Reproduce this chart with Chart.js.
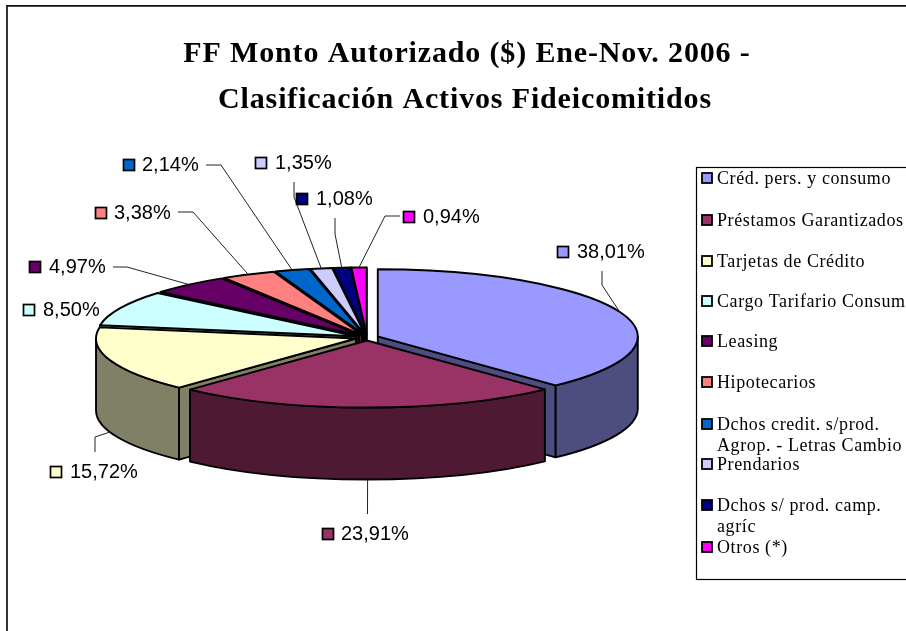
<!DOCTYPE html>
<html><head><meta charset="utf-8">
<style>html,body{margin:0;padding:0;background:#fff}#w{position:relative;width:906px;height:631px;overflow:hidden}</style>
<script src="https://cdn.jsdelivr.net/npm/chart.js@4"></script></head>
<body><div id="w"><canvas id="c" width="906" height="631"></canvas></div>
<script>
const titleLines = ["FF Monto Autorizado ($) Ene-Nov. 2006 -", "Clasificación Activos Fideicomitidos"];
const categories = ["Créd. pers. y consumo","Préstamos Garantizados","Tarjetas de Crédito","Cargo Tarifario Consumo","Leasing","Hipotecarios","Dchos credit. s/prod. Agrop. - Letras Cambio","Prendarios","Dchos s/ prod. camp. agríc","Otros (*)"];
const shares = [38.01,23.91,15.72,8.50,4.97,3.38,2.14,1.35,1.08,0.94];
const shareLabels = ["38,01%","23,91%","15,72%","8,50%","4,97%","3,38%","2,14%","1,35%","1,08%","0,94%"];
const topColors = ["#9999FF","#993366","#FFFFCC","#CCFFFF","#660066","#FF8080","#0066CC","#CCCCFF","#000080","#FF00FF"];
const sideColors = ["#4D4D80","#4D1933","#808066","#668080","#330033","#804040","#003366","#666680","#000040","#800080"];

// layout only
const TILT = 0.258, DEPTH = 72;
const labelBoxes = [[557,246],[322,528],[50,466],[23,304],[29,261],[95,207],[123,159],[255,157],[296,193],[403,211]];
const labelTextX = [577,341,70,43,49,114,142,275,316,423];
const leaderBends = [[[602,271],[602,285]],[[367.5,514]],[[95,452],[95,437]],null,[[113,267],[127,267]],[[178,212],[193,212]],[[206,165],[221,165]],[[294,182],[294,197]],[[335,218],[335,234]],[[400,216],[385,216]]];
const legendRows = [
 {i:0,lines:["Créd. pers. y consumo"],y:184},{i:1,lines:["Préstamos Garantizados"],y:226},
 {i:2,lines:["Tarjetas de Crédito"],y:267},{i:3,lines:["Cargo Tarifario Consumo"],y:307},
 {i:4,lines:["Leasing"],y:347},{i:5,lines:["Hipotecarios"],y:388},
 {i:6,lines:["Dchos credit. s/prod.","Agrop. - Letras Cambio"],y:430},{i:7,lines:["Prendarios"],y:470},
 {i:8,lines:["Dchos s/ prod. camp.","agríc"],y:511},{i:9,lines:["Otros (*)"],y:553}];

function geom(a){
  const p = a.getProps(['x','y','startAngle','endAngle','outerRadius']);
  const off = (a.options.offset||0)/4, mid=(p.startAngle+p.endAngle)/2;
  return {cx:p.x+Math.cos(mid)*off, cy:p.y+Math.sin(mid)*off*TILT, rx:p.outerRadius, ry:p.outerRadius*TILT, s:p.startAngle, e:p.endAngle, mid};
}
const pt=(g,t,d=0)=>[g.cx+g.rx*Math.cos(t), g.cy+g.ry*Math.sin(t)+d];
function face(ctx,g,t,col){
  const q=pt(g,t);
  ctx.beginPath();ctx.moveTo(g.cx,g.cy);ctx.lineTo(q[0],q[1]);ctx.lineTo(q[0],q[1]+DEPTH);ctx.lineTo(g.cx,g.cy+DEPTH);ctx.closePath();
  ctx.fillStyle=col;ctx.fill();ctx.stroke();
}
const pie3d = {
  id:'pie3d',
  beforeDatasetsDraw(chart){
    const ctx=chart.ctx, arcs=chart.getDatasetMeta(0).data;
    const order=arcs.map((a,i)=>({g:geom(a),i})).sort((u,v)=>Math.sin(u.g.mid)-Math.sin(v.g.mid));
    ctx.save();ctx.strokeStyle='#000';ctx.lineJoin='round';ctx.lineWidth=1.9;
    for(const {g,i} of order){
      if(Math.cos(g.s)<=0) face(ctx,g,g.s,sideColors[i]);
      if(Math.cos(g.e)>0) face(ctx,g,g.e,sideColors[i]);
      const a=Math.max(g.s,0), b=Math.min(g.e,Math.PI);
      if(b>a){
        ctx.beginPath();ctx.ellipse(g.cx,g.cy,g.rx,g.ry,0,a,b);
        ctx.ellipse(g.cx,g.cy+DEPTH,g.rx,g.ry,0,b,a,true);ctx.closePath();
        ctx.fillStyle=sideColors[i];ctx.fill();ctx.stroke();
      }
      ctx.beginPath();ctx.moveTo(g.cx,g.cy);ctx.ellipse(g.cx,g.cy,g.rx,g.ry,0,g.s,g.e);ctx.closePath();
      ctx.fillStyle=topColors[i];ctx.fill();ctx.stroke();
    }
    ctx.restore();
    return false;
  },
  afterDraw(chart){
    const ctx=chart.ctx, arcs=chart.getDatasetMeta(0).data;
    ctx.save();
    // frame
    ctx.strokeStyle='#111';ctx.lineWidth=1.7;
    ctx.beginPath();ctx.moveTo(7,640);ctx.lineTo(7,5.8);ctx.lineTo(920,5.8);ctx.stroke();
    // title
    ctx.fillStyle='#000';ctx.textAlign='center';ctx.textBaseline='alphabetic';
    ctx.font='bold 30px "Liberation Serif"';ctx.letterSpacing='0.85px';
    ctx.fillText(titleLines[0],467,62);ctx.fillText(titleLines[1],465,108);
    ctx.letterSpacing='0px';
    // leaders
    ctx.lineWidth=1;ctx.strokeStyle='#222';
    arcs.forEach((a,i)=>{
      const bends=leaderBends[i]; if(!bends)return;
      const g=geom(a), front=Math.sin(g.mid)>0.05, end=pt(g,g.mid,front?DEPTH:0);
      ctx.beginPath();ctx.moveTo(bends[0][0],bends[0][1]);
      bends.slice(1).forEach(b=>ctx.lineTo(b[0],b[1]));
      ctx.lineTo(end[0],end[1]);ctx.stroke();
    });
    // data labels
    ctx.textAlign='left';ctx.font='20px "Liberation Sans"';ctx.lineWidth=1.7;ctx.strokeStyle='#000';
    shareLabels.forEach((t,i)=>{
      const [x,y]=labelBoxes[i];
      ctx.fillStyle=topColors[i];ctx.fillRect(x+.5,y+.5,11,11);ctx.strokeRect(x+.5,y+.5,11,11);
      ctx.fillStyle='#000';ctx.fillText(t,labelTextX[i],y+12);
    });
    // legend
    ctx.lineWidth=1.2;ctx.strokeRect(696.5,167.5,300,412);
    ctx.font='18px "Liberation Serif"';ctx.letterSpacing='0.6px';
    legendRows.forEach(r=>{
      ctx.fillStyle=topColors[r.i];ctx.lineWidth=1.8;
      ctx.fillRect(702,r.y-11,10,10);ctx.strokeRect(702,r.y-11,10,10);
      ctx.fillStyle='#000';
      r.lines.forEach((l,k)=>ctx.fillText(l,717,r.y+k*21));
    });
    ctx.restore();
  }
};
new Chart(document.getElementById('c'),{
  type:'pie',
  data:{labels:categories,datasets:[{data:shares,backgroundColor:topColors,borderWidth:0,offset:46.4,radius:260}]},
  options:{responsive:false,animation:false,
    layout:{padding:{left:0,right:172,top:44,bottom:0}},
    plugins:{legend:{display:false},title:{display:false},tooltip:{enabled:false}}},
  plugins:[pie3d]
});
</script></body></html>
